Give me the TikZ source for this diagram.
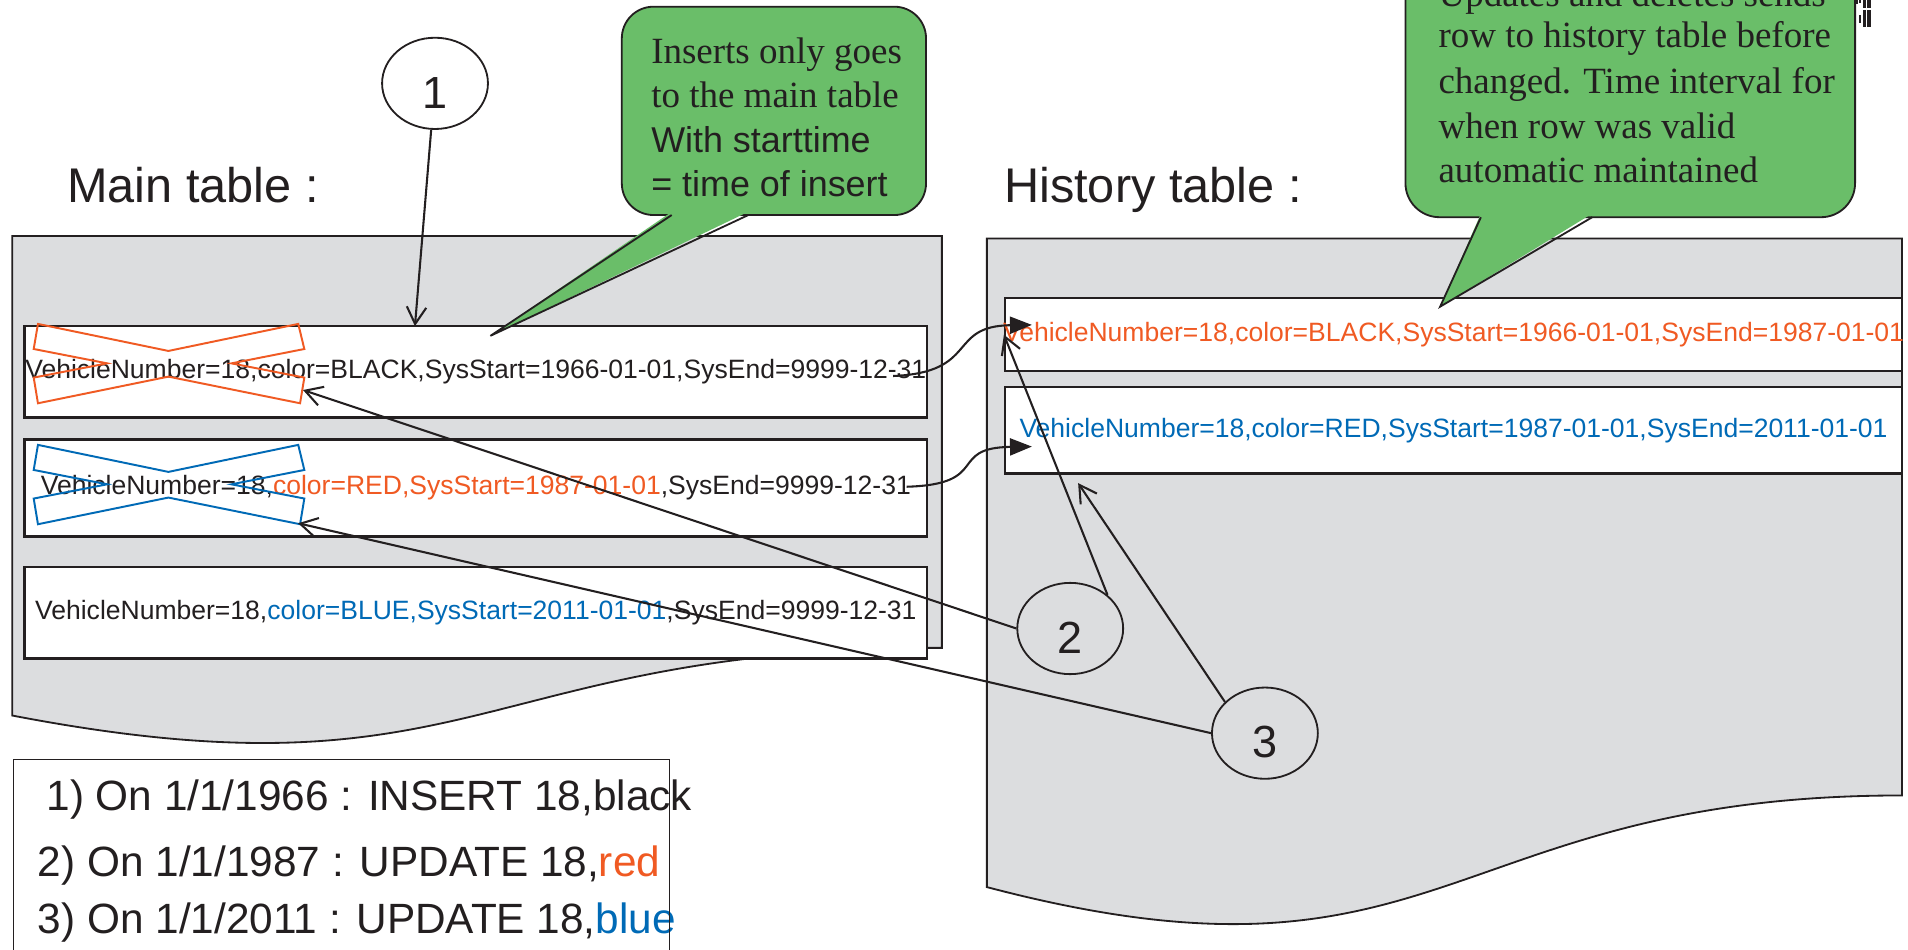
\documentclass[tikz,border=0pt]{standalone}
\usepackage{fontspec}
\setmainfont{Liberation Sans}
\newfontfamily\tnr{Liberation Serif}
\usetikzlibrary{arrows.meta,shapes.geometric,calc}
\definecolor{ink}{RGB}{35,31,32}
\definecolor{ored}{RGB}{240,90,35}
\definecolor{oblue}{RGB}{0,106,182}
\definecolor{cgreen}{RGB}{106,190,105}
\definecolor{dgrey}{RGB}{220,221,223}
\newcommand\rowfnt{\fontsize{21.8}{26}\selectfont}
\newcommand\ttlfnt{\fontsize{40}{48}\selectfont}
\newcommand\legfnt{\fontsize{34.8}{42}\selectfont}
\newcommand\digfnt{\fontsize{37}{44}\selectfont}
\newcommand\calfnt{\tnr\fontsize{30.4}{37}\selectfont}
\newcommand\calsfnt{\fontsize{29.5}{37}\selectfont}
\begin{document}
\begin{tikzpicture}[x=1pt,y=-1pt,
  doc/.style={fill=dgrey,draw=ink,line width=1.5pt},
  rowbox/.style={draw=ink,fill=white,line width=2pt,minimum width=742pt,minimum height=75pt,inner sep=0pt,text=ink,font=\rowfnt},
  hrow/.style={rowbox,minimum width=737pt},
  xmark/.style={line width=1.6pt,line join=miter},
  oval/.style={ellipse,draw=ink,line width=1.5pt,minimum width=87pt,minimum height=75pt,inner sep=0pt,font=\digfnt,text=ink,text height=40.5pt,text depth=0pt},
  lbl/.style={anchor=base west,inner sep=0pt,text=ink},
  callout/.style={fill=cgreen,draw=ink,line width=1.5pt},
  conn/.style={draw=ink,line width=1.7pt},
  openarr/.style={conn,-{Straight Barb[length=14pt,width=16pt]}},
  fillarr/.style={conn,-{Triangle[length=18pt,width=14pt]}}
]
\useasboundingbox (0,0) rectangle (1568,780);

% table backgrounds (document shapes)
\draw[doc] (10,194) -- (774,194) -- (774,532.4) .. controls (392,532.4) and (392,661.4) .. (10,588) -- cycle;
\draw[doc] (811,196) -- (1563,196) -- (1563,653.7) .. controls (1187,653.7) and (1187,828) .. (811,729) -- cycle;

% titles
\node[lbl,font=\ttlfnt] (tmain) at (55,166) {Main table :};
\node[lbl,font=\ttlfnt] (thist) at (825,166) {History table :};

% main table rows
\node[rowbox] (r1) at (391,305.5) {VehicleNumber=18,color=BLACK,SysStart=1966-01-01,SysEnd=9999-12-31};
\node[rowbox,minimum height=80pt] (r2) at (391,401) {VehicleNumber=18,\textcolor{ored}{color=RED,SysStart=1987-01-01},SysEnd=9999-12-31};
\node[rowbox] (r3) at (391,503.5) {VehicleNumber=18,\textcolor{oblue}{color=BLUE,SysStart=2011-01-01},SysEnd=9999-12-31};

% history rows
\node[hrow,minimum height=60pt,text=ored] (h1) at (1194.5,275) {\makebox[0pt]{VehicleNumber=18,color=BLACK,SysStart=1966-01-01,SysEnd=1987-01-01}};
\node[hrow,minimum height=71pt,text=oblue] (h2) at (1194.5,353.5) {\makebox[0pt]{VehicleNumber=18,color=RED,SysStart=1987-01-01,SysEnd=2011-01-01}};

% crossing-out marks
\draw[xmark,draw=ored] (31.2,266.2) -- (138.4,288.4) -- (245.1,266.2) -- (250.1,286.8) -- (190.2,298.6) -- (250.1,310.3) -- (246.6,331.4) -- (138.4,309.5) -- (31.2,331.4) -- (27.7,310.3) -- (88.1,298.6) -- (27.7,286.8) -- cycle;
\begin{scope}[yshift=-99.4pt]
\draw[xmark,draw=oblue] (31.2,266.2) -- (138.4,288.4) -- (245.1,266.2) -- (250.1,286.8) -- (190.2,298.6) -- (250.1,310.3) -- (246.6,331.4) -- (138.4,309.5) -- (31.2,331.4) -- (27.7,310.3) -- (88.1,298.6) -- (27.7,286.8) -- cycle;
\end{scope}

% legend
\node[lbl,font=\legfnt] (l1) at (38,665.7) {1) On 1/1/1966 : INSERT 18,black};
\node[lbl,font=\legfnt] (l2) at (31,720) {2) On 1/1/1987 : UPDATE 18,\textcolor{ored}{red}};
\node[lbl,font=\legfnt] (l3) at (31,767) {3) On 1/1/2011 : UPDATE 18,\textcolor{oblue}{blue}};
\draw[ink,line width=1.2pt] (11,624) rectangle (550,800);

% numbered ovals
\node[oval] (n1) at (357.5,68.5) {1};
\node[oval] (n2) at (879.5,516.5) {2};
\node[oval] (n3) at (1039.5,602.5) {3};

% callout 1
\draw[callout,rounded corners=26pt] (511,5.5) rectangle (761,176.7);
\fill[cgreen] (552,174) -- (403,276) -- (615,174) -- cycle;
\draw[ink,line width=1.5pt,line join=miter] (552,176.7) -- (403,276) -- (615,176.7);
\node[lbl,font=\calfnt] (c1a) at (535,52) {Inserts only goes};
\node[lbl,font=\calfnt] (c1b) at (535,88) {to the main table};
\node[lbl,font=\calsfnt] (c1c) at (535,125) {With starttime};
\node[lbl,font=\calsfnt] (c1d) at (535,161.6) {= time of insert};

% callout 2
\draw[callout,rounded corners=28pt] (1155,-60) rectangle (1524.5,178.5);
\fill[cgreen] (1217,175.5) -- (1183.5,252) -- (1308.5,175.5) -- cycle;
\draw[ink,line width=1.5pt,line join=miter] (1217,178.5) -- (1183.5,252) -- (1308.5,178.5);
\node[lbl,font=\calfnt] (c2a) at (1182,5) {Updates and deletes sends};
\node[lbl,font=\calfnt] (c2b) at (1182,39) {row to history table before};
\node[lbl,font=\calfnt] (c2c) at (1182,76.5) {changed. Time interval for};
\node[lbl,font=\calfnt] (c2d) at (1182,113.5) {when row was valid};
\node[lbl,font=\calfnt] (c2e) at (1182,150) {automatic maintained};

% connector end points
\coordinate (a1) at (341,268);
\coordinate (xo) at (249,320.5);
\coordinate (xb) at (245,430);
\coordinate (t3) at (886,397);
\coordinate (s1) at (734,309);
\coordinate (e1) at (848,267);
\coordinate (s2) at (745,400);
\coordinate (e2) at (848,367);

% connectors
\draw[openarr] (n1) -- (a1);
\draw[openarr] (n2.west) -- (xo);
\draw[openarr] (n3.west) -- (xb);
\draw[openarr] (n2.42) -- (h1.west);
\draw[openarr] (n3.142) -- (t3);
\draw[fillarr] (s1) .. controls (805,306) and (778,268) .. (e1);
\draw[fillarr] (s2) .. controls (815,398) and (778,368) .. (e2);

% small marks at top right
\fill[ink] (1531.4,0) rectangle (1533.6,6.8);
\fill[ink] (1534.6,0) rectangle (1537.4,6.8);
\fill[ink] (1531.4,8.2) rectangle (1533.6,21.9);
\fill[ink] (1534.6,8.2) rectangle (1537.4,21.9);
\fill[ink] (1528,0) rectangle (1529.7,2.2);
\fill[ink] (1528,12.3) rectangle (1529.7,18.6);
\fill[ink] (1525.5,0) rectangle (1527,3);
\end{tikzpicture}
\end{document}
